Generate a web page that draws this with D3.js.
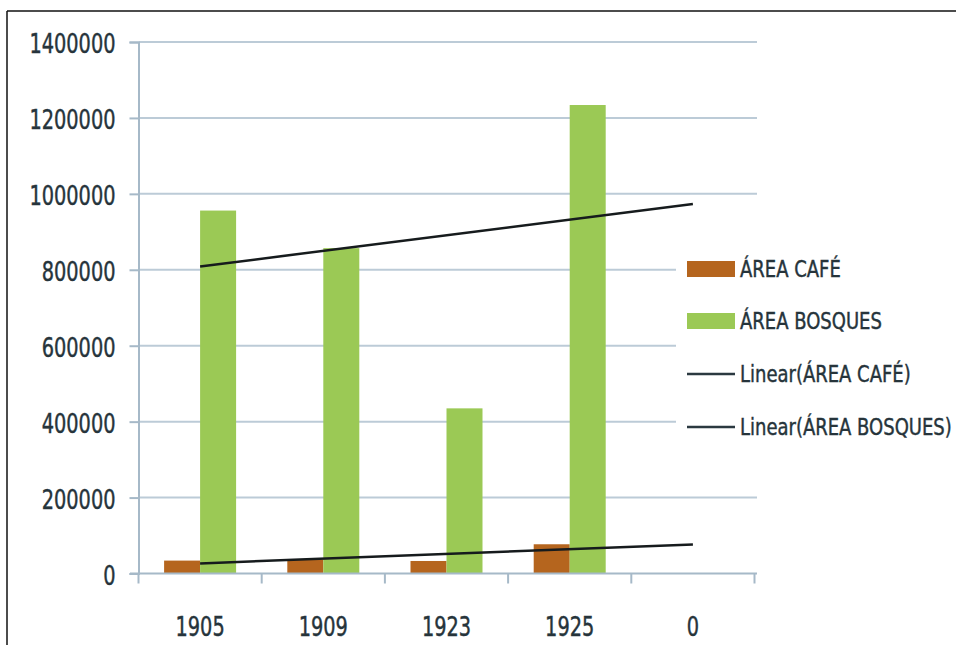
<!DOCTYPE html>
<html>
<head>
<meta charset="utf-8">
<style>
  body { margin: 0; background: #fff; }
  svg { display: block; }
  text { font-family: "DejaVu Sans Condensed", "Liberation Sans", sans-serif; fill: #26343b; stroke: #26343b; stroke-width: 0.35px; }
</style>
</head>
<body>
<script src="https://d3js.org/d3.v7.min.js"></script>
<script>

  // data
  var categories = ["1905", "1909", "1923", "1925", "0"];
  var areaCafe = [34000, 37000, 33000, 77000, null];
  var areaBosques = [956000, 857000, 435000, 1234000, null];
  var yTicks = [0, 200000, 400000, 600000, 800000, 1000000, 1200000, 1400000];
  var legendLabels = ["ÁREA CAFÉ", "ÁREA BOSQUES", "Linear(ÁREA CAFÉ)", "Linear(ÁREA BOSQUES)"];

  var width = 956;
  var height = 645;

  var colors = { cafe: "#b5651e", bosques: "#9bc955" };

  var svg = d3.select("body")
      .append("svg")
      .attr("width", width)
      .attr("height", height);

  // page frame (chart is a crop out of a document)
  svg.append("line")
      .attr("x1", 7).attr("y1", 11).attr("x2", width).attr("y2", 11)
      .attr("stroke", "#111").attr("stroke-width", 1.5);
  svg.append("line")
      .attr("x1", 7).attr("y1", 11).attr("x2", 7).attr("y2", height)
      .attr("stroke", "#111").attr("stroke-width", 1.5);

  var x0 = d3.scaleBand()
      .domain(categories)
      .range([138.5, 754.5]);

  var x1 = d3.scaleBand()
      .domain(["cafe", "bosques"])
      .range([25.6, x0.bandwidth() - 25.6]);

  var y = d3.scaleLinear()
      .domain([0, 1400000])
      .range([573.5, 42]);

  // gridlines
  svg.append("g")
      .selectAll("line")
      .data(yTicks.slice(1))
      .enter()
        .append("line")
        .attr("x1", 138.5)
        .attr("x2", 757)
        .attr("y1", function (d) { return y(d); })
        .attr("y2", function (d) { return y(d); })
        .attr("stroke", "#bccbd7")
        .attr("stroke-width", 2);

  // y axis
  var yAxis = svg.append("g")
      .attr("transform", "translate(138.5,0)")
      .call(d3.axisLeft(y).tickValues(yTicks).tickSize(9).tickPadding(14).tickFormat(d3.format("d")));
  yAxis.select(".domain").attr("stroke", "#a6b9c8").attr("stroke-width", 2);
  yAxis.selectAll(".tick line").attr("stroke", "#a6b9c8").attr("stroke-width", 2);
  yAxis.selectAll(".tick text")
      .style("font-size", "21.5px")
      .attr("dy", "0.42em")
      .attr("transform", "scale(1,1.2)");

  // bars
  var bars = categories.map(function (c, i) {
    return [
      { cat: c, key: "cafe", value: areaCafe[i] },
      { cat: c, key: "bosques", value: areaBosques[i] }
    ];
  });

  svg.append("g")
      .selectAll("g")
      .data(bars)
      .enter()
        .append("g")
        .attr("transform", function (d) { return "translate(" + x0(d[0].cat) + ",0)"; })
      .selectAll("rect")
      .data(function (d) { return d.filter(function (b) { return b.value != null; }); })
      .enter()
        .append("rect")
        .attr("x", function (d) { return x1(d.key); })
        .attr("width", x1.bandwidth())
        .attr("y", function (d) { return y(d.value); })
        .attr("height", function (d) { return y(0) - y(d.value); })
        .attr("fill", function (d) { return colors[d.key]; });

  // x axis
  var xAxisG = svg.append("g").attr("transform", "translate(0," + y(0) + ")");
  xAxisG.append("line")
      .attr("x1", 130).attr("x2", 757)
      .attr("stroke", "#a6b9c8").attr("stroke-width", 2);
  xAxisG.selectAll(".tk")
      .data(categories.concat(["end"]))
      .enter()
        .append("line")
        .attr("class", "tk")
        .attr("x1", function (d, i) { return x0.range()[0] + i * x0.bandwidth(); })
        .attr("x2", function (d, i) { return x0.range()[0] + i * x0.bandwidth(); })
        .attr("y1", 0).attr("y2", 10)
        .attr("stroke", "#a6b9c8").attr("stroke-width", 2);
  xAxisG.selectAll("text")
      .data(categories)
      .enter()
        .append("text")
        .attr("transform", function (d) {
          return "translate(" + (x0(d) + x0.bandwidth() / 2) + ",62) scale(1,1.2)";
        })
        .attr("text-anchor", "middle")
        .style("font-size", "21.5px")
        .text(function (d) { return d; });

  // linear trendlines (least squares over category index)
  function trend(values) {
    var pts = [];
    values.forEach(function (v, i) { if (v != null) pts.push([i + 1, v]); });
    var mx = d3.mean(pts, function (p) { return p[0]; });
    var my = d3.mean(pts, function (p) { return p[1]; });
    var sxy = d3.sum(pts, function (p) { return (p[0] - mx) * (p[1] - my); });
    var sxx = d3.sum(pts, function (p) { return (p[0] - mx) * (p[0] - mx); });
    var b = sxy / sxx;
    var a = my - b * mx;
    return categories.map(function (c, i) { return { cat: c, value: a + b * (i + 1) }; });
  }

  var line = d3.line()
      .x(function (d) { return x0(d.cat) + x0.bandwidth() / 2; })
      .y(function (d) { return y(d.value); });

  [areaCafe, areaBosques].forEach(function (vals) {
    var t = trend(vals);
    svg.append("path")
        .datum([t[0], t[t.length - 1]])
        .attr("d", line)
        .attr("fill", "none")
        .attr("stroke", "#161b1d")
        .attr("stroke-width", 2.5);
  });

  // legend
  var legend = svg.append("g");
  legend.append("rect")
      .attr("x", 676).attr("y", 232).attr("width", 280).attr("height", 225)
      .attr("fill", "#fff");

  var rowY = [269, 321, 374, 427];
  legendLabels.forEach(function (label, i) {
    var g = legend.append("g").attr("transform", "translate(0," + rowY[i] + ")");
    if (i < 2) {
      g.append("rect")
          .attr("x", 687).attr("y", -8).attr("width", 48).attr("height", 16)
          .attr("fill", i === 0 ? colors.cafe : colors.bosques);
    } else {
      g.append("line")
          .attr("x1", 687).attr("x2", 735)
          .attr("stroke", "#2b3940").attr("stroke-width", 2.5);
    }
    g.append("text")
        .attr("transform", "translate(740,0) scale(1,1.15)")
        .attr("dy", "0.36em")
        .style("font-size", "20px")
        .text(label);
  });

</script>
</body>
</html>
